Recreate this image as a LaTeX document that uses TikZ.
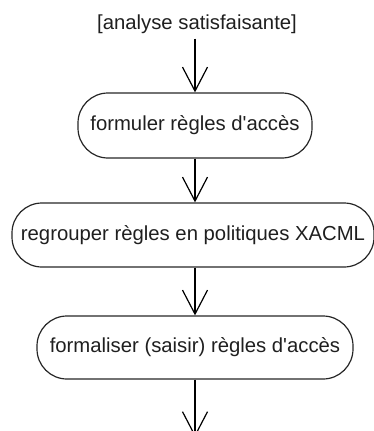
\documentclass[tikz,border=0pt]{standalone}
\usepackage{fontspec}
\setmainfont{Liberation Sans}
\usetikzlibrary{arrows.meta}
\begin{document}
\begin{tikzpicture}[x=1pt,y=1pt,
  action/.style={draw=black!85, line width=1.2pt, rounded corners=30pt,
    inner sep=0pt, text=black!88,
    font=\fontsize{20.3}{24}\selectfont},
  guardtext/.style={inner sep=0pt, text=black!88,
    font=\fontsize{20.3}{24}\selectfont},
  flow/.style={draw=black, line width=1.2pt,
    -{Straight Barb[length=24pt,width=25pt,line width=1.2pt]}}]
  \useasboundingbox (0,0) rectangle (374,-431);
  \clip (0,0) rectangle (374,-431);

  % guard label and the three actions of the flow
  \node[guardtext] (guard) at (197,-24) {[analyse satisfaisante]};
  \node[action, minimum width=234pt, minimum height=65pt] (formuler) at (195,-125.5) {formuler règles d\textquotesingle accès};
  \node[action, minimum width=362pt, minimum height=64pt] (regrouper) at (193,-235) {regrouper règles en politiques XACML};
  \node[action, minimum width=316pt, minimum height=63pt] (formaliser) at (195,-347.5) {formaliser (saisir) règles d\textquotesingle accès};
  \coordinate (suite) at (195,-437);

  % control flow
  \draw[flow] ([yshift=-5pt]guard.south -| formuler.north) -- (formuler.north);
  \draw[flow] (formuler.south) -- (formuler.south |- regrouper.north);
  \draw[flow] (formuler.south |- regrouper.south) -- (formaliser.north);
  \draw[flow] (formaliser.south) -- (suite);
\end{tikzpicture}
\end{document}
